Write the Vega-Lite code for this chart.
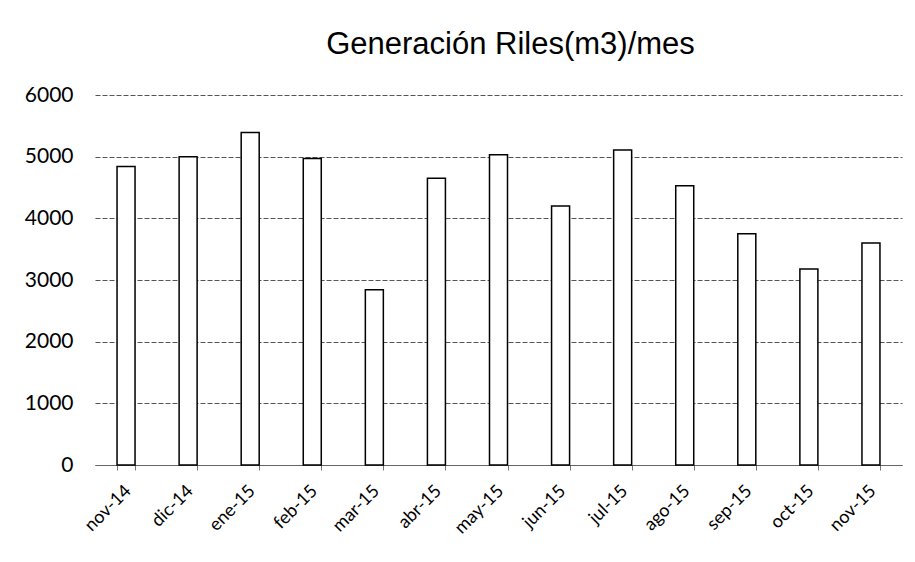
{
  "$schema": "https://vega.github.io/schema/vega-lite/v6.json",
  "width": 807,
  "height": 370,
  "autosize": "none",
  "padding": {"left": 95, "top": 95, "right": 13, "bottom": 97},
  "background": "white",
  "title": {
    "text": "Generación Riles(m3)/mes",
    "font": "Liberation Sans",
    "fontSize": 31,
    "fontWeight": "normal",
    "color": "black",
    "anchor": "middle",
    "dx": 12,
    "offset": 23
  },
  "data": {
    "values": [
      {"mes": "nov-14", "m3": 4840},
      {"mes": "dic-14", "m3": 5000},
      {"mes": "ene-15", "m3": 5390},
      {"mes": "feb-15", "m3": 4970},
      {"mes": "mar-15", "m3": 2840},
      {"mes": "abr-15", "m3": 4650},
      {"mes": "may-15", "m3": 5030},
      {"mes": "jun-15", "m3": 4200},
      {"mes": "jul-15", "m3": 5110},
      {"mes": "ago-15", "m3": 4530},
      {"mes": "sep-15", "m3": 3750},
      {"mes": "oct-15", "m3": 3180},
      {"mes": "nov-15", "m3": 3600}
    ]
  },
  "config": {
    "view": {"stroke": null},
    "axis": {"labelFont": "Lato", "labelColor": "black"}
  },
  "mark": {"type": "bar", "fill": "white", "stroke": "black", "strokeWidth": 1.5},
  "encoding": {
    "x": {
      "field": "mes",
      "type": "nominal",
      "sort": null,
      "scale": {"paddingInner": 0.71, "paddingOuter": 0.355},
      "axis": {
        "title": null,
        "labelAngle": -45,
        "labelAlign": "right",
        "labelBaseline": "middle",
        "labelFontSize": 18,
        "labelPadding": 18,
        "labelOffset": 2,
        "tickBand": "extent",
        "ticks": true,
        "tickColor": "#777",
        "tickSize": 5,
        "domainColor": "#666",
        "domainWidth": 1,
        "grid": false
      }
    },
    "y": {
      "field": "m3",
      "type": "quantitative",
      "scale": {"domain": [0, 6000]},
      "axis": {
        "title": null,
        "format": "d",
        "values": [0, 1000, 2000, 3000, 4000, 5000, 6000],
        "labelFontSize": 21,
        "labelPadding": 22,
        "ticks": false,
        "domain": false,
        "grid": true,
        "gridColor": "#555",
        "gridDash": [5, 2],
        "gridWidth": 1
      }
    }
  }
}
